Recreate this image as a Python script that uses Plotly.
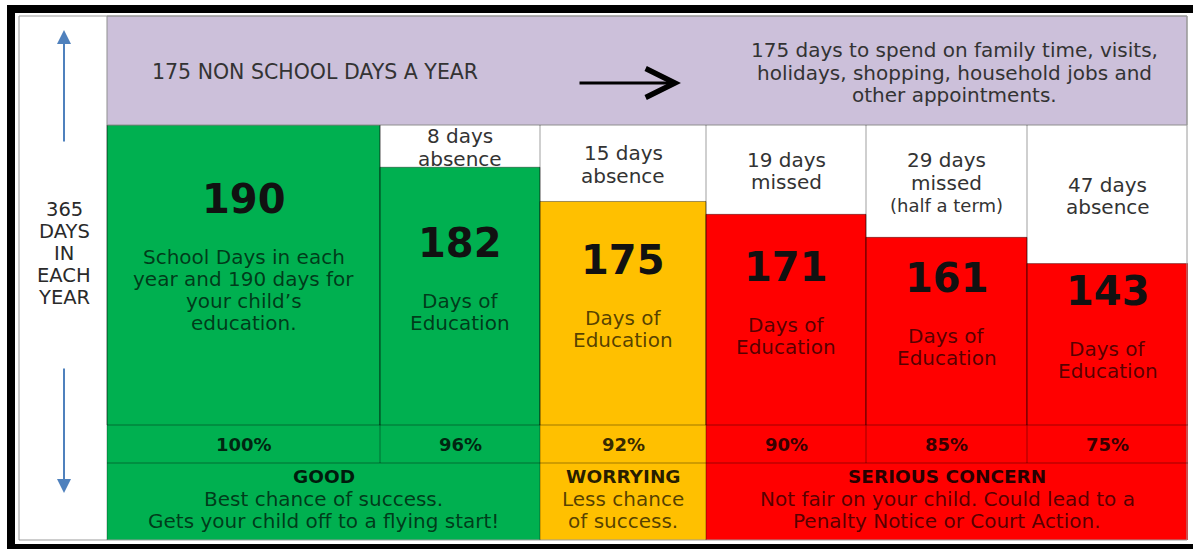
import math
import plotly.graph_objects as go

# ---------------- data ----------------
education_days = [190, 182, 175, 171, 161, 143]
absence_days = [0, 8, 15, 19, 29, 47]
absence_words = ["", "absence", "absence", "missed", "missed", "absence"]
absence_notes = ["", "", "", "", "(half a term)", ""]
attendance_pct = ["100%", "96%", "92%", "90%", "85%", "75%"]
descriptions = [
    ["School Days in each", "year and 190 days for", "your child’s", "education."],
    ["Days of", "Education"],
    ["Days of", "Education"],
    ["Days of", "Education"],
    ["Days of", "Education"],
    ["Days of", "Education"],
]
status = ["good", "good", "worrying", "serious", "serious", "serious"]
verdict_titles = {"good": "GOOD", "worrying": "WORRYING", "serious": "SERIOUS CONCERN"}
verdict_lines = {
    "good": ["Best chance of success.", "Gets your child off to a flying start!"],
    "worrying": ["Less chance", "of success."],
    "serious": ["Not fair on your child. Could lead to a", "Penalty Notice or Court Action."],
}
header_left = "175 NON SCHOOL DAYS A YEAR"
header_right = ["175 days to spend on family time, visits,",
                "holidays, shopping, household jobs and",
                "other appointments."]
side_label = ["365", "DAYS", "IN", "EACH", "YEAR"]

# ---------------- layout constants ----------------
W, H = 1193, 549
col_edges = [107, 380, 540, 706, 866, 1027, 1188]
TOP, BAR_BOTTOM, PCT_BOTTOM, ROW_BOTTOM = 125, 425, 463, 540
LOG_TOP, LOG_BOTTOM = 0.5658, 2.96   # reversed log axis of days absent
STATUS_COLORS = {"good": "#00B050", "worrying": "#FFC000", "serious": "#FF0000"}
FONT = "DejaVu Sans"
EDGE = "rgba(0,0,0,0.38)"
BODY = "rgba(0,0,0,0.68)"

centers = [(a + b) / 2 for a, b in zip(col_edges[:-1], col_edges[1:])]
widths = [b - a for a, b in zip(col_edges[:-1], col_edges[1:])]
colors = [STATUS_COLORS[s] for s in status]


def py(p):
    return 1 - p / H


fig = go.Figure()

# education bars: from the days-absent level down past the bottom of the axis
base = [max(a, 10 ** LOG_TOP) for a in absence_days]
fig.add_trace(go.Bar(
    x=centers, y=[10 ** (LOG_BOTTOM + 1) - b for b in base], base=base, width=widths,
    marker=dict(color=colors, line=dict(color=EDGE, width=1)),
    xaxis="x", yaxis="y", hoverinfo="skip", showlegend=False))

# percentage row
fig.add_trace(go.Bar(
    x=centers, y=[1] * len(centers), width=widths,
    marker=dict(color=colors, line=dict(width=0)),
    xaxis="x", yaxis="y2", hoverinfo="skip", showlegend=False))

# verdict row: contiguous runs of the same status
runs = []
for i, s in enumerate(status):
    if runs and runs[-1][0] == s:
        runs[-1][2] = i
    else:
        runs.append([s, i, i])
run_x0 = [col_edges[r[1]] for r in runs]
run_x1 = [col_edges[r[2] + 1] for r in runs]
fig.add_trace(go.Bar(
    x=[(a + b) / 2 for a, b in zip(run_x0, run_x1)], y=[1] * len(runs),
    width=[b - a for a, b in zip(run_x0, run_x1)],
    marker=dict(color=[STATUS_COLORS[r[0]] for r in runs], line=dict(width=0)),
    xaxis="x", yaxis="y3", hoverinfo="skip", showlegend=False))

ann = []


def txt(x, ypix, text, size, color="#333333", bold=False, xanchor="center", **kw):
    ann.append(dict(x=x, y=py(ypix), xref="x", yref="paper", text=f"<b>{text}</b>" if bold else text,
                    showarrow=False, xanchor=xanchor, yanchor="middle",
                    font=dict(family=FONT, size=size, color=color), **kw))


# header
txt(150, 72, header_left, 20.5, "#333333", xanchor="left")
for i, line in enumerate(header_right):
    txt(954, 50 + 22.5 * i, line, 20, "#333333")

# side label
for i, line in enumerate(side_label):
    txt(64, 209 + 22 * i, line, 19.5, "#2a2a2a")

# numbers and descriptions inside coloured bars
for i in range(len(education_days)):
    ymid = (math.log10(base[i]) + LOG_BOTTOM) / 2
    n = len(descriptions[i])
    extra = 11.5 * (n - 2)
    ann.append(dict(x=centers[i], y=ymid, xref="x", yref="y", text=f"<b>{education_days[i]}</b>",
                    showarrow=False, yanchor="middle", yshift=53 + extra,
                    font=dict(family=FONT, size=40, color="#111111")))
    for j, line in enumerate(descriptions[i]):
        ann.append(dict(x=centers[i], y=ymid, xref="x", yref="y", text=line,
                        showarrow=False, yanchor="middle", yshift=-(5 - extra + 22 * j),
                        font=dict(family=FONT, size=20, color=BODY)))

# absence text in the white cells
for i, d in enumerate(absence_days):
    if d <= 0:
        continue
    lines = [f"{d} days", absence_words[i]] + ([absence_notes[i]] if absence_notes[i] else [])
    ymid = (LOG_TOP + math.log10(d)) / 2
    n = len(lines)
    for j, line in enumerate(lines):
        off = -(n - 1) * 22.5 / 2 + 1.5 + 22.5 * j
        ann.append(dict(x=centers[i], y=ymid, xref="x", yref="y", text=line,
                        showarrow=False, yanchor="middle", yshift=-off,
                        font=dict(family=FONT, size=20 if j < 2 else 18, color="#333333")))

# percentages
for i, p in enumerate(attendance_pct):
    txt(centers[i], 444, p, 18, "rgba(0,0,0,0.8)", bold=True)

# verdicts
for r, x0, x1 in zip(runs, run_x0, run_x1):
    cx = (x0 + x1) / 2
    txt(cx, 476, verdict_titles[r[0]], 18.5, "rgba(0,0,0,0.85)", bold=True)
    for j, line in enumerate(verdict_lines[r[0]]):
        txt(cx, 499 + 22 * j, line, 20, BODY)

# arrows
ARROW_BLUE = "#4F81BD"
ann.append(dict(x=64, y=py(30), xref="x", yref="paper", ax=0, ay=113, axref="pixel", ayref="pixel",
                text="", showarrow=True, arrowhead=2, arrowsize=1.4, arrowwidth=2, arrowcolor=ARROW_BLUE))
ann.append(dict(x=64, y=py(493), xref="x", yref="paper", ax=0, ay=-126, axref="pixel", ayref="pixel",
                text="", showarrow=True, arrowhead=2, arrowsize=1.4, arrowwidth=2, arrowcolor=ARROW_BLUE))
ann.append(dict(x=681, y=py(83), xref="x", yref="paper", ax=-103, ay=0, axref="pixel", ayref="pixel",
                text="", showarrow=True, arrowhead=5, arrowsize=1.9, arrowwidth=3, arrowcolor="#000000"))

# shapes
shapes = []


def rect(x0, y0, x1, y1, fill=None, line=None, lw=0):
    shapes.append(dict(type="rect", xref="paper", yref="paper",
                       x0=x0 / W, x1=x1 / W, y0=py(y1), y1=py(y0),
                       fillcolor=fill or "rgba(0,0,0,0)",
                       line=dict(color=line or "rgba(0,0,0,0)", width=lw)))


def hline(x0, x1, y, color=EDGE, lw=1):
    shapes.append(dict(type="line", xref="paper", yref="paper", x0=x0 / W, x1=x1 / W,
                       y0=py(y), y1=py(y), line=dict(color=color, width=lw)))


def vline(x, y0, y1, color=EDGE, lw=1):
    shapes.append(dict(type="line", xref="paper", yref="paper", x0=x / W, x1=x / W,
                       y0=py(y0), y1=py(y1), line=dict(color=color, width=lw)))


rect(107, 16, 1187, 125, fill="#CCC0DA", line="#8f8f8f", lw=1)
rect(19, 16, 1187, 540, line="#9a9a9a", lw=1)
hline(107, 1188, BAR_BOTTOM)
hline(107, 1188, PCT_BOTTOM)
for x in col_edges[1:-1]:
    vline(x, TOP, PCT_BOTTOM)
for x in run_x0[1:]:
    vline(x, PCT_BOTTOM, ROW_BOTTOM)
vline(107, TOP, ROW_BOTTOM, color="rgba(0,0,0,0.3)")
# white strip right of the inner frame
rect(1188, 13, 1193, 544, fill="#FFFFFF")
# thick black outer frame (left, top, bottom)
rect(7, 5, 15, 549, fill="#000000")
rect(7, 5, 1193, 13, fill="#000000")
rect(7, 544, 1193, 549, fill="#000000")

hidden = dict(visible=False, showgrid=False, zeroline=False, fixedrange=True)
fig.update_layout(
    width=W, height=H, margin=dict(l=0, r=0, t=0, b=0),
    paper_bgcolor="#FFFFFF", plot_bgcolor="rgba(0,0,0,0)",
    barmode="overlay", showlegend=False,
    xaxis=dict(range=[0, W], domain=[0, 1], **hidden),
    yaxis=dict(type="log", range=[LOG_BOTTOM, LOG_TOP], domain=[py(BAR_BOTTOM), py(TOP)], **hidden),
    yaxis2=dict(range=[0, 1], domain=[py(PCT_BOTTOM), py(BAR_BOTTOM)], **hidden),
    yaxis3=dict(range=[0, 1], domain=[py(ROW_BOTTOM), py(PCT_BOTTOM)], **hidden),
    annotations=ann, shapes=shapes,
)

fig.write_html("out.html", config={"displayModeBar": False},
               post_script="document.body.style.margin='0';document.body.style.overflow='hidden';")
